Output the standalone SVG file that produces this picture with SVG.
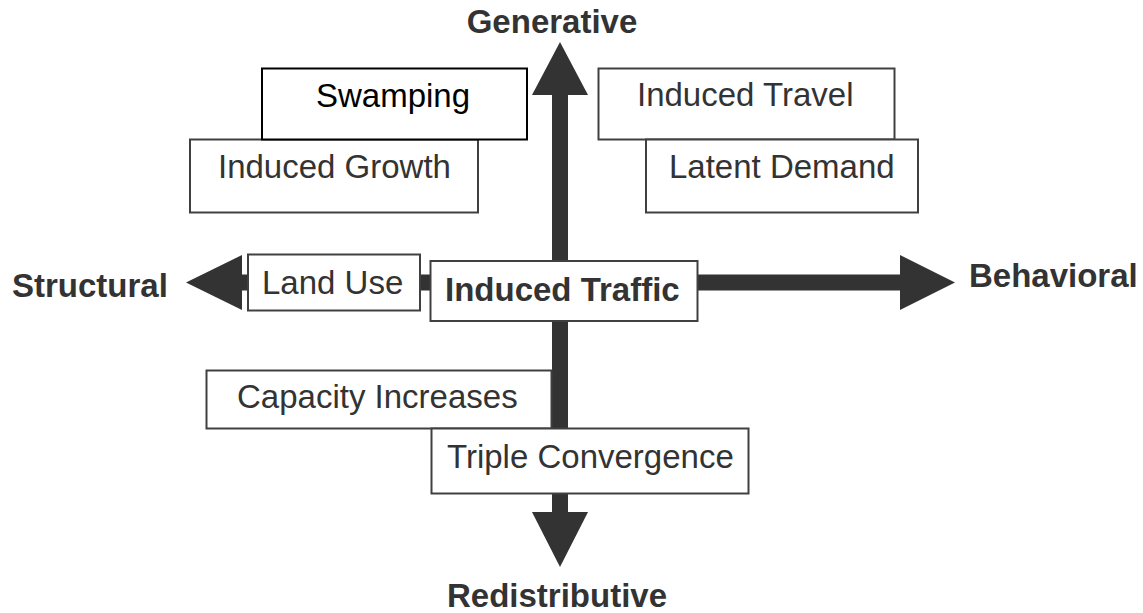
<svg xmlns="http://www.w3.org/2000/svg" width="1143" height="613" viewBox="0 0 1143 613">
<style>
.box{fill:#fff;stroke:#404040;stroke-width:2}
.boxk{fill:#fff;stroke:#000;stroke-width:2}
.t{font-family:"Liberation Sans",Arial,sans-serif;font-size:33px;fill:#333}
.tk{font-family:"Liberation Sans",Arial,sans-serif;font-size:33px;fill:#000}
.b{font-family:"Liberation Sans",Arial,sans-serif;font-size:33px;font-weight:bold;fill:#333}
.ax{fill:#333}
</style>
<rect width="1143" height="613" fill="#fff"/>
<g id="connectors">
<rect class="ax" x="552" y="94" width="16" height="420"/>
<polygon class="ax" points="560,42 532,95 588,95"/>
<polygon class="ax" points="560,567 532,512 588,512"/>
<rect class="ax" x="240" y="274.5" width="662" height="16"/>
<polygon class="ax" points="186,282.5 242,255 242,310"/>
<polygon class="ax" points="955,282.5 900,255 900,310"/>
</g>
<g id="axis-generative"><text class="b" x="552" y="33" text-anchor="middle">Generative</text></g>
<g id="axis-redistributive"><text class="b" x="557" y="607" text-anchor="middle">Redistributive</text></g>
<g id="axis-structural"><text class="b" x="12" y="296.5">Structural</text></g>
<g id="axis-behavioral"><text class="b" x="969" y="286.5">Behavioral</text></g>
<g id="induced-growth"><rect class="box" x="190" y="139.5" width="288" height="73"/><text class="t" x="218" y="178">Induced Growth</text></g>
<g id="swamping"><rect class="boxk" x="262" y="68.5" width="265" height="71"/><text class="tk" x="316" y="106.5">Swamping</text></g>
<g id="induced-travel"><rect class="box" x="598.5" y="68.5" width="296" height="71"/><text class="t" x="637" y="106">Induced Travel</text></g>
<g id="latent-demand"><rect class="box" x="646" y="139.5" width="272" height="73"/><text class="t" x="669" y="178">Latent Demand</text></g>
<g id="land-use"><rect class="box" x="248" y="254.5" width="172" height="56"/><text class="t" x="262" y="294">Land Use</text></g>
<g id="induced-traffic"><rect class="box" x="430.5" y="261" width="267" height="60"/><text class="b" x="445" y="301">Induced Traffic</text></g>
<g id="capacity-increases"><rect class="box" x="206.5" y="370.5" width="345" height="58"/><text class="t" x="237" y="408">Capacity Increases</text></g>
<g id="triple-convergence"><rect class="box" x="431.5" y="428.5" width="317" height="65"/><text class="t" x="447" y="468">Triple Convergence</text></g>
</svg>
